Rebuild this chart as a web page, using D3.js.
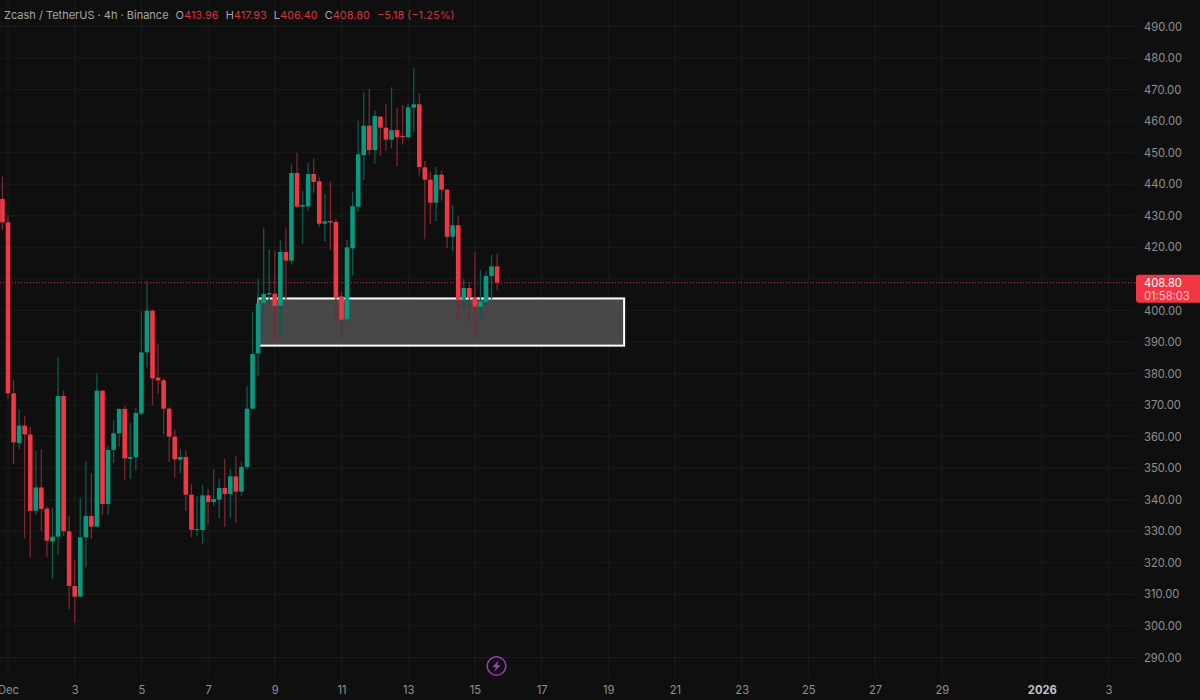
<!DOCTYPE html>
<html lang="en">
<head>
    <meta charset="UTF-8">
    <title>Zcash / TetherUS 4h</title>
    <script src="https://d3js.org/d3.v7.min.js"></script>
    <style>
        html, body { margin: 0; padding: 0; background: #0f0f0f; overflow: hidden; }
        svg { display: block; font-family: Inter, "Noto Sans", sans-serif; }
        .axis path, .axis line { display: none; }
        .axis text { fill: #8f8f8f; font-size: 11.2px; font-family: Inter, "Noto Sans", sans-serif; }
    </style>
</head>
<body>
    <svg id="chart" width="1200" height="700"></svg>

    <script>
        // 4h candles, first one opens 30 Nov 20:00
        const firstCandle = Date.UTC(2025, 10, 30, 20);
        const opens = [435.33, 427.93, 373.73, 358.0, 363.5, 360.7, 336.5, 343.9, 337.2, 326.8,
            328.3, 372.89, 330, 312.67, 309.3, 328.1, 334.85, 331.47, 374.6, 338.66,
            355.77, 361.05, 368.77, 353.0, 353.55, 367.3, 386.7, 399.93, 378.7, 377.85,
            368.87, 360, 352.7, 353.55, 341.6, 330.4, 330.4, 341.4, 339.3, 340.03,
            343.72, 341.8, 347.42, 342.56, 350.38, 368.87, 386.4, 402.26, 405.1, 405.3,
            401.52, 418.53, 415.78, 443.57, 432.9, 433, 443.25, 440.93, 427.51, 428.36,
            428.04, 404.48, 397.19, 419.69, 432.89, 449.27, 458.57, 450.85, 461.42, 457.93,
            454.13, 457.19, 455.29, 454.87, 464.27, 465.33, 445.36, 441.45, 434.16, 443.04,
            438.28, 423.38, 426.98, 403.31, 407.11, 404.16, 401.2, 402.78, 410.92, 413.96];
        const highs = [442.4, 430.26, 377.85, 368.8, 366.65, 363.3, 355.45, 355.98, 338, 337.4,
            385.35, 374.6, 334.85, 321.1, 340.56, 352.3, 348.38, 380.07, 374.6, 357.0,
            365.2, 369, 369.7, 364.43, 368.97, 399.82, 409.44, 400.35, 389.47, 378.48,
            369.3, 362.2, 356, 355.66, 344.9, 341.08, 344.78, 343.4, 349.64, 346.68,
            352.9, 349.85, 353.76, 351.96, 376.05, 399.5, 410.08, 426.25, 419.4, 418.95,
            422.23, 426.03, 446.32, 450.0, 437.97, 446.74, 448.22, 442.4, 436.91, 440.93,
            429.1, 405.85, 422.33, 437.65, 460.15, 469.13, 470.19, 463.43, 461.6, 465.43,
            470.72, 464.27, 465.12, 465.54, 476.84, 468.71, 447.37, 443.99, 445.47, 444.3,
            438.49, 433.42, 430.04, 409.97, 408.8, 418.52, 412.92, 412.5, 417.78, 417.93];
        const lows = [425.5, 371.83, 351.3, 356, 327.7, 321.65, 335.06, 330.1, 321.96, 314.8,
            322.6, 328.5, 305.37, 301.05, 309.07, 318.58, 327.67, 331.4, 335.17, 335.06,
            351.76, 356.83, 346.26, 346.68, 349.43, 366.86, 381.97, 369.92, 373.6, 360.63,
            351.96, 347.1, 348.37, 336.43, 328.09, 328.6, 326.08, 332.3, 338.1, 334.1,
            331.47, 334.3, 332.6, 341.19, 349.53, 368.76, 379.33, 399.6, 402.26, 390.3,
            392.6, 403.3, 414.73, 432.58, 421.17, 431.63, 437.34, 426.45, 421.8, 419.16,
            396.66, 390.21, 396.13, 411.13, 431.4, 441.34, 449.16, 446.52, 449.06, 450.54,
            451.38, 445.68, 452.54, 454.87, 456.67, 442.82, 422.54, 427.4, 428.35, 434.8,
            419.69, 418.84, 397.71, 400.67, 395.7, 391.69, 398, 401.72, 403.6, 406.4];
        const closes = [427.93, 373.73, 358.2, 363.5, 360.7, 336.5, 343.9, 337.07, 327.04, 328.3,
            372.89, 330, 312.67, 309.3, 328.1, 334.85, 331.47, 374.6, 338.66, 355.77,
            361.05, 368.77, 353.13, 353.55, 367.5, 386.7, 399.93, 378.48, 377.85, 368.87,
            360, 352.8, 353.55, 341.6, 330.5, 330.7, 341.4, 339.3, 340.2, 343.72,
            341.8, 347.42, 342.56, 350.38, 368.87, 386.2, 402.26, 405.2, 405.5, 401.4,
            418.53, 415.78, 443.57, 432.9, 433.43, 443.25, 440.72, 427.51, 428.25, 427.93,
            404.27, 397.08, 420, 433, 449.48, 458.57, 450.85, 461.63, 457.93, 454.13,
            457.09, 454.87, 454.97, 464.38, 465.33, 445.47, 441.45, 434.16, 443.04, 438.28,
            423.38, 426.98, 403.31, 407.11, 404.16, 401.2, 402.78, 410.92, 413.98, 408.8];

        const priceTicks = [490, 480, 470, 460, 450, 440, 430, 420, 410, 400, 390, 380, 370, 360, 350, 340, 330, 320, 310, 300, 290];
        const dateTicks = [[2025, 11, 1], [2025, 11, 3], [2025, 11, 5], [2025, 11, 7], [2025, 11, 9], [2025, 11, 11], [2025, 11, 13], [2025, 11, 15],
            [2025, 11, 17], [2025, 11, 19], [2025, 11, 21], [2025, 11, 23], [2025, 11, 25], [2025, 11, 27], [2025, 11, 29], [2026, 0, 1], [2026, 0, 3]];
        const dateLabels = ["Dec", "3", "5", "7", "9", "11", "13", "15", "17", "19", "21", "23", "25", "27", "29", "2026", "3"];

        const lastPrice = 408.80;
        const countdown = "01:58:03";
        const zoneTop = 403.8, zoneBottom = 388.85;
        const zoneStart = Date.UTC(2025, 11, 8, 12), zoneEnd = Date.UTC(2025, 11, 19, 11, 25);

        const upColor = "#089981", downColor = "#f23645";
        const upWick = "#0b5a4d", downWick = "#7d2630";

        const svg = d3.select("#chart");

        const x = d3.scaleUtc()
            .domain([Date.UTC(2025, 11, 1), Date.UTC(2026, 0, 3)])
            .range([8, 1108.5]);
        const y = d3.scaleLinear()
            .domain([490, 290])
            .range([26.5, 657.5]);

        const candles = opens.map((o, i) => ({
            time: firstCandle + i * 4 * 3600 * 1000,
            open: o, high: highs[i], low: lows[i], close: closes[i]
        }));
        const tickDates = dateTicks.map(d => Date.UTC(d[0], d[1], d[2]));

        // grid
        svg.append("g").selectAll("line").data(priceTicks).enter().append("line")
            .attr("x1", 0).attr("x2", 1135)
            .attr("y1", d => y(d)).attr("y2", d => y(d))
            .attr("stroke", "#1b1b1b");
        svg.append("g").selectAll("line").data(tickDates).enter().append("line")
            .attr("x1", d => x(d)).attr("x2", d => x(d))
            .attr("y1", 0).attr("y2", 678)
            .attr("stroke", "#1b1b1b");

        // grey zone, sits under the candles
        svg.append("rect")
            .attr("x", x(zoneStart))
            .attr("y", y(zoneTop))
            .attr("width", x(zoneEnd) - x(zoneStart))
            .attr("height", y(zoneBottom) - y(zoneTop))
            .attr("fill", "rgba(128,128,128,0.5)")
            .attr("stroke", "#ffffff")
            .attr("stroke-width", 2);

        // last price line
        svg.append("line")
            .attr("x1", 0).attr("x2", 1136)
            .attr("y1", y(lastPrice)).attr("y2", y(lastPrice))
            .attr("stroke", "#d8323f")
            .attr("stroke-dasharray", "1 2");

        // candles
        svg.append("g").selectAll("line").data(candles).enter().append("line")
            .attr("x1", d => x(d.time)).attr("x2", d => x(d.time))
            .attr("y1", d => y(d.high)).attr("y2", d => y(d.low))
            .attr("stroke", d => d.close >= d.open ? upWick : downWick)
            .attr("stroke-width", 1.3);
        svg.append("g").selectAll("rect").data(candles).enter().append("rect")
            .attr("x", d => x(d.time) - 2.3)
            .attr("width", 4.6)
            .attr("y", d => y(Math.max(d.open, d.close)))
            .attr("height", d => Math.max(1, Math.abs(y(d.open) - y(d.close))))
            .attr("fill", d => d.close >= d.open ? upColor : downColor);

        // price axis, the 410 label is hidden behind the last price badge
        svg.append("g")
            .attr("class", "axis")
            .attr("transform", "translate(1144,0)")
            .call(d3.axisRight(y).tickValues(priceTicks.filter(p => p !== 410)).tickSize(0).tickPadding(0).tickFormat(d3.format(".2f")));

        // time axis
        const timeAxis = svg.append("g")
            .attr("class", "axis")
            .attr("transform", "translate(0,680)")
            .call(d3.axisBottom(x).tickValues(tickDates).tickSize(0).tickPadding(6)
                .tickFormat((d, i) => dateLabels[i]));
        timeAxis.selectAll("text")
            .filter((d, i) => dateLabels[i] === "2026")
            .attr("font-weight", 700)
            .style("fill", "#c4c4c4");

        // last price badge
        const badgeY = y(lastPrice);
        svg.append("path")
            .attr("d", `M1200,${badgeY - 8} H1139 a3,3 0 0 0 -3,3 V${badgeY + 17} a3,3 0 0 0 3,3 H1200 Z`)
            .attr("fill", "#f23645");
        svg.append("text").attr("x", 1144).attr("y", badgeY + 4)
            .attr("font-size", 11.2).attr("fill", "#ffffff").text(lastPrice.toFixed(2));
        svg.append("text").attr("x", 1144).attr("y", badgeY + 17)
            .attr("font-size", 11.2).attr("fill", "#ffc4ca").text(countdown);

        // header line, change is against the previous close
        const last = candles[candles.length - 1];
        const prevClose = candles[candles.length - 2].close;
        const change = last.close - prevClose;
        const header = svg.append("text").attr("x", 4).attr("y", 19).attr("font-size", 11);
        const grey = "#a6a6a6", red = "#d8323f";
        const headerParts = [
            ["Zcash / TetherUS · 4h · Binance", grey, 0],
            ["O", grey, 7], [last.open.toFixed(2), red, 0],
            ["H", grey, 7], [last.high.toFixed(2), red, 0],
            ["L", grey, 7], [last.low.toFixed(2), red, 0],
            ["C", grey, 7], [last.close.toFixed(2), red, 0],
            [`−${Math.abs(change).toFixed(2)} (−${Math.abs(change / prevClose * 100).toFixed(2)}%)`, red, 7]
        ];
        header.selectAll("tspan").data(headerParts).enter().append("tspan")
            .attr("dx", d => d[2])
            .attr("fill", d => d[1])
            .text(d => d[0]);

        // lightning badge near the time axis
        const bolt = svg.append("g").attr("transform", "translate(496.5,666)");
        bolt.append("circle").attr("r", 9.3).attr("fill", "#0f0f0f")
            .attr("stroke", "#a23cb8").attr("stroke-width", 1.5);
        bolt.append("path").attr("d", "M2.4,-6 L-4.2,1 L-0.6,1 L-2.4,6 L4.2,-1 L0.6,-1 Z")
            .attr("fill", "#a23cb8");
    </script>
</body>
</html>
